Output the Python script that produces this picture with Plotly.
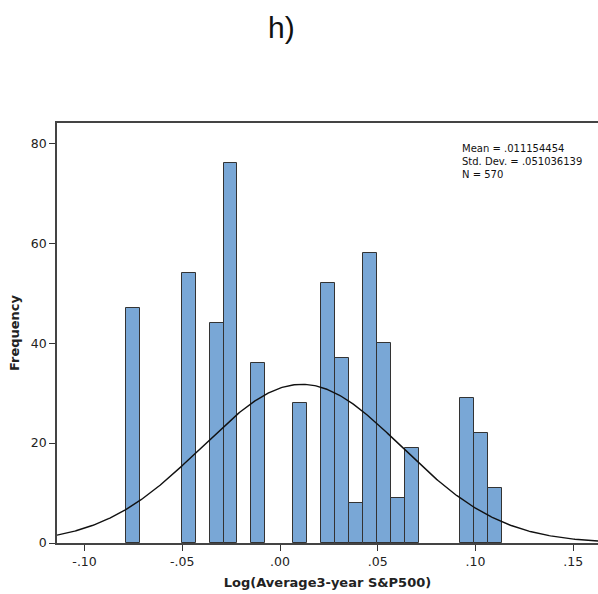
import numpy as np
import plotly.graph_objects as go

# Histogram of Log(Average 3-year S&P500): bin grid and counts per bin
bin_start = -0.0788
bin_width = 0.00713
counts = [47, 0, 0, 0, 54, 0, 44, 76, 0, 36, 0, 0, 28, 0,
          52, 37, 8, 58, 40, 9, 19, 0, 0, 0, 29, 22, 11]

# Summary statistics shown in the corner
mean = 0.011154454
std_dev = 0.051036139
n_obs = 570

x_ticks = [-0.10, -0.05, 0.00, 0.05, 0.10, 0.15]
x_tick_labels = ["-.10", "-.05", ".00", ".05", ".10", ".15"]
y_ticks = [0, 20, 40, 60, 80]

centers = [bin_start + (i + 0.5) * bin_width for i in range(len(counts))]
# empty bins are left undrawn so no outline sits on the baseline
bar_heights = [c if c > 0 else None for c in counts]

# Fitted normal curve scaled to the histogram counts
xs = np.linspace(-0.1141, 0.1627, 400)
ys = n_obs * bin_width * np.exp(-0.5 * ((xs - mean) / std_dev) ** 2) / (std_dev * np.sqrt(2 * np.pi))

fig = go.Figure()
fig.add_trace(go.Bar(
    x=centers, y=bar_heights, width=bin_width,
    marker=dict(color="#79a7d6", line=dict(color="#333333", width=1)),
    hoverinfo="x+y",
))
fig.add_trace(go.Scatter(
    x=xs, y=ys, mode="lines",
    line=dict(color="#111111", width=1.4),
    hoverinfo="skip",
))

fig.update_layout(
    width=598, height=594,
    margin=dict(l=57, r=0, t=123, b=51),
    paper_bgcolor="white", plot_bgcolor="white",
    showlegend=False,
    bargap=0,
    font=dict(family="DejaVu Sans", size=12, color="#222222"),
)
fig.update_xaxes(
    range=[-0.1141, 0.1627],
    tickmode="array", tickvals=x_ticks, ticktext=x_tick_labels,
    ticks="outside", ticklen=6, tickcolor="#333333", tickwidth=1,
    showline=True, linecolor="#444444", linewidth=1.5, mirror=True,
    showgrid=False, zeroline=False,
    tickfont=dict(size=12.5, color="#222222"),
    title=dict(text="<b>Log(Average3-year S&P500)</b>", font=dict(size=13, color="#222222"), standoff=10),
)
fig.update_yaxes(
    range=[0, 84.1],
    tickmode="array", tickvals=y_ticks,
    ticks="outside", ticklen=6, tickcolor="#333333", tickwidth=1,
    showline=True, linecolor="#444444", linewidth=1.5, mirror=False,
    showgrid=False, zeroline=False,
    tickfont=dict(size=12.5, color="#222222"),
    title=dict(text="<b>Frequency</b>", font=dict(size=13, color="#222222"), standoff=8),
)

fig.add_annotation(
    text="h)", xref="paper", yref="paper",
    x=(281 - 57) / 541, y=1 + (123 - 28) / 420,
    xanchor="center", yanchor="middle", showarrow=False,
    font=dict(family="Liberation Sans", size=30, color="#111111"),
)
fig.add_annotation(
    text=f"Mean = .{str(mean).split('.')[1]}<br>Std. Dev. = .{str(std_dev).split('.')[1]}<br>N = {n_obs}",
    xref="paper", yref="paper",
    x=(460 - 57) / 541, y=1 - (141 - 123) / 420,
    xanchor="left", yanchor="top", align="left", showarrow=False,
    font=dict(family="DejaVu Sans", size=10, color="#111111"),
)

fig.write_html("out.html")
